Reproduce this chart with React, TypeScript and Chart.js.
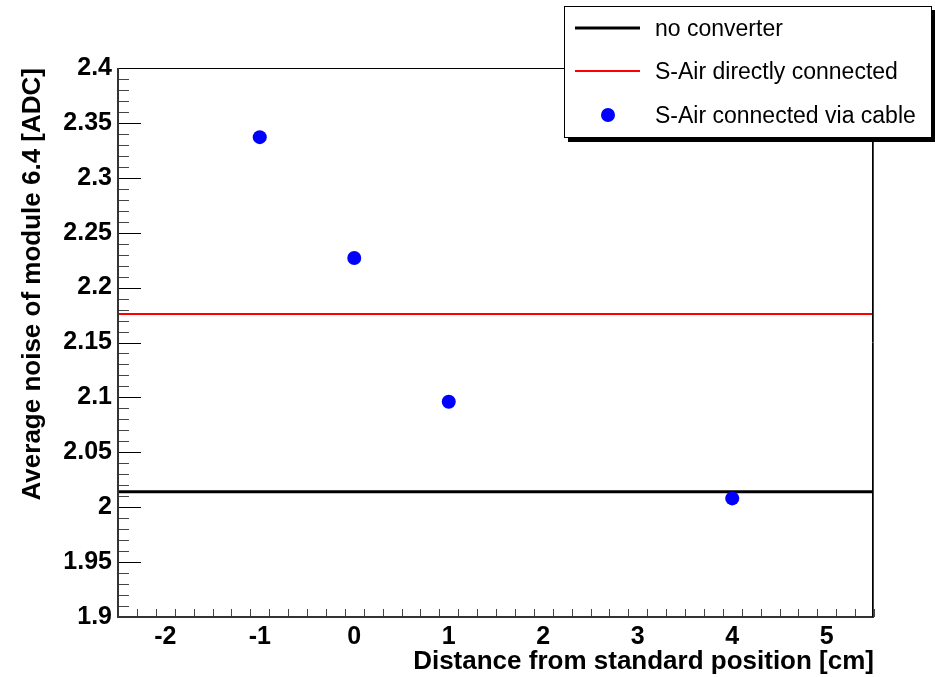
import React, { useEffect, useRef } from "react";
import { Chart, registerables } from "chart.js";

Chart.register(...registerables);

// ---- data ----
const positions = [-1, 0, 1, 4];
const cableNoise = [2.337, 2.227, 2.096, 2.008];
const noConverterNoise = 2.014;
const directNoise = 2.176;
const X_MIN = -2.5;
const X_MAX = 5.5;
const Y_MIN = 1.9;
const Y_MAX = 2.4;
const xTickValues = [-2, -1, 0, 1, 2, 3, 4, 5];
const yTickValues = [1.9, 1.95, 2, 2.05, 2.1, 2.15, 2.2, 2.25, 2.3, 2.35, 2.4];
const legendLabels = ["no converter", "S-Air directly connected", "S-Air connected via cable"];
const xTitle = "Distance from standard position [cm]";
const yTitle = "Average noise of module 6.4 [ADC]";

const W = 935;
const H = 677;
const FONT = "'Liberation Sans', Arial, Helvetica, sans-serif";

const rootFrame = {
  id: "rootFrame",
  afterDatasetsDraw(chart: any) {
    const { ctx, chartArea: a, scales } = chart;
    const xs = scales.x;
    const ys = scales.y;
    ctx.save();
    ctx.lineWidth = 1;
    // y ticks every 0.01, major each 0.05
    for (let i = 0; i <= 50; i++) {
      const v = Y_MIN + i * 0.01;
      const py = Math.round(ys.getPixelForValue(v)) + 0.5;
      const major = i % 5 === 0;
      ctx.strokeStyle = major ? "#000" : "#444";
      ctx.beginPath();
      ctx.moveTo(a.left, py);
      ctx.lineTo(a.left + (major ? 23 : 11), py);
      ctx.stroke();
    }
    // x ticks every 0.2, major each 1
    for (let i = 0; i <= 40; i++) {
      const v = X_MIN + i * 0.2;
      const px = Math.round(xs.getPixelForValue(v)) + 0.5;
      const major = Math.abs(v - Math.round(v)) < 1e-6;
      ctx.strokeStyle = major ? "#000" : "#444";
      ctx.beginPath();
      ctx.moveTo(px, a.bottom);
      ctx.lineTo(px, a.bottom - (major ? 17 : 8));
      ctx.stroke();
    }
    // frame
    ctx.strokeStyle = "#000";
    ctx.lineWidth = 1;
    ctx.beginPath();
    ctx.moveTo(a.left + 0.5, a.top + 0.5);
    ctx.lineTo(a.right - 0.5, a.top + 0.5);
    ctx.stroke();
    ctx.strokeStyle = "#333";
    ctx.lineWidth = 2;
    ctx.beginPath();
    ctx.moveTo(a.left, a.top);
    ctx.lineTo(a.left, a.bottom);
    ctx.lineTo(a.right, a.bottom);
    ctx.stroke();
    ctx.lineWidth = 1;
    ctx.strokeStyle = "#000";
    ctx.beginPath();
    ctx.moveTo(a.right - 1.5, a.top);
    ctx.lineTo(a.right - 1.5, a.bottom);
    ctx.stroke();
    ctx.strokeStyle = "#e00000";
    ctx.beginPath();
    ctx.moveTo(a.right - 0.5, a.top);
    ctx.lineTo(a.right - 0.5, a.bottom);
    ctx.stroke();
    ctx.restore();
  },
  afterDraw(chart: any) {
    const { ctx } = chart;
    ctx.save();
    const bx = 564, by = 6, bw = 367, bh = 131;
    ctx.fillStyle = "#000";
    ctx.fillRect(bx + 4, by + 4, bw + 1, bh + 1);
    ctx.fillStyle = "#fff";
    ctx.fillRect(bx, by, bw, bh);
    ctx.strokeStyle = "#000";
    ctx.lineWidth = 1;
    ctx.strokeRect(bx + 0.5, by + 0.5, bw, bh);
    const rows = [28, 71, 115];
    ctx.font = `23px ${FONT}`;
    ctx.textBaseline = "middle";
    ctx.lineWidth = 3;
    ctx.strokeStyle = "#000";
    ctx.beginPath();
    ctx.moveTo(575, rows[0]);
    ctx.lineTo(640, rows[0]);
    ctx.stroke();
    ctx.lineWidth = 2;
    ctx.strokeStyle = "#ff0000";
    ctx.beginPath();
    ctx.moveTo(575, rows[1]);
    ctx.lineTo(640, rows[1]);
    ctx.stroke();
    ctx.fillStyle = "#0000ff";
    ctx.beginPath();
    ctx.arc(608, rows[2], 7, 0, Math.PI * 2);
    ctx.fill();
    ctx.fillStyle = "#000";
    legendLabels.forEach((t, i) => ctx.fillText(t, 655, rows[i] + 2));
    ctx.restore();
  },
};

function fmt(v: number) {
  return String(Number(v.toFixed(2)));
}

export default function App() {
  const ref = useRef<HTMLCanvasElement>(null);
  useEffect(() => {
    const chart = new Chart(ref.current!, {
      type: "scatter",
      data: {
        datasets: [
          {
            label: legendLabels[0],
            type: "line",
            data: [
              { x: X_MIN, y: noConverterNoise },
              { x: X_MAX, y: noConverterNoise },
            ],
            borderColor: "#000",
            borderWidth: 3,
            pointRadius: 0,
            order: 3,
          },
          {
            label: legendLabels[1],
            type: "line",
            data: [
              { x: X_MIN, y: directNoise },
              { x: X_MAX, y: directNoise },
            ],
            borderColor: "#ff0000",
            borderWidth: 2,
            pointRadius: 0,
            order: 2,
          },
          {
            label: legendLabels[2],
            data: positions.map((p, i) => ({ x: p, y: cableNoise[i] })),
            backgroundColor: "#0000ff",
            borderColor: "#0000ff",
            pointRadius: 7,
            pointBorderWidth: 0,
            order: 1,
          },
        ],
      },
      options: {
        animation: false,
        responsive: false,
        maintainAspectRatio: false,
        layout: { padding: { top: 68, right: 61, left: 0, bottom: 0 } },
        plugins: { legend: { display: false }, tooltip: { enabled: false } },
        scales: {
          x: {
            type: "linear",
            min: X_MIN,
            max: X_MAX,
            afterBuildTicks: (s: any) => {
              s.ticks = xTickValues.map((v) => ({ value: v }));
            },
            afterFit: (s: any) => {
              s.height = 60;
            },
            grid: { display: false, drawTicks: false },
            border: { display: false },
            ticks: {
              padding: 5,
              color: "#000",
              autoSkip: false,
              font: { family: FONT, size: 25, weight: "bold" },
              callback: (v: any) => fmt(Number(v)),
              maxRotation: 0,
            },
            title: {
              display: true,
              text: xTitle,
              align: "end",
              color: "#000",
              font: { family: FONT, size: 26, weight: "bold" },
              padding: { top: 0, bottom: 0 },
            },
          },
          y: {
            type: "linear",
            min: Y_MIN,
            max: Y_MAX,
            afterBuildTicks: (s: any) => {
              s.ticks = yTickValues.map((v) => ({ value: v }));
            },
            afterFit: (s: any) => {
              s.width = 118;
            },
            grid: { display: false, drawTicks: false },
            border: { display: false },
            ticks: {
              padding: 6,
              color: "#000",
              autoSkip: false,
              font: { family: FONT, size: 25, weight: "bold" },
              callback: (v: any) => fmt(Number(v)),
            },
            title: {
              display: true,
              text: yTitle,
              align: "end",
              color: "#000",
              font: { family: FONT, size: 26, weight: "bold" },
              padding: { top: 17, bottom: 0 },
            },
          },
        },
      },
      plugins: [rootFrame],
    } as any);
    return () => chart.destroy();
  }, []);
  return (
    <div style={{ position: "fixed", left: 0, top: 0, width: W, height: H, background: "#fff" }}>
      <canvas ref={ref} width={W} height={H} style={{ display: "block", width: W, height: H }} />
    </div>
  );
}
